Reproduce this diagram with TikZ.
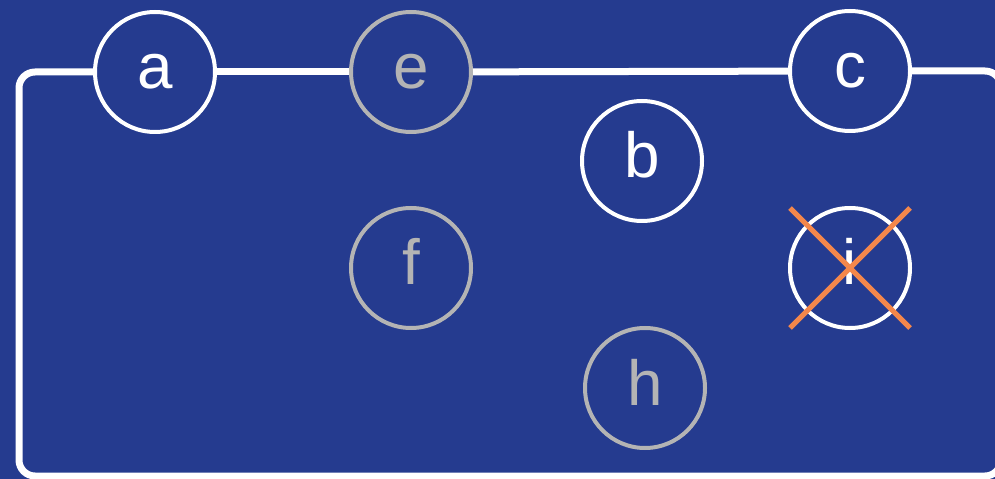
\documentclass[tikz,border=0pt]{standalone}
\usepackage{fontspec}
\setmainfont{Liberation Sans}
\definecolor{bgblue}{HTML}{253B8F}
\definecolor{dimgray}{HTML}{B4B4B4}
\definecolor{strikeorange}{HTML}{F4874B}
\tikzset{
  slot/.style={circle, draw=white, line width=4bp, fill=bgblue, text=white,
    minimum size=120bp, inner sep=0pt, text height=34bp, text depth=0pt,
    font=\fontsize{64}{70}\selectfont},
  ghost/.style={slot, draw=dimgray, text=dimgray},
  rail/.style={white, line width=7bp},
  strike/.style={strikeorange, line width=5bp},
}
\begin{document}
\begin{tikzpicture}[x=1bp, y=-1bp]
        % Background
            \fill[bgblue] (0,0) rectangle (995,479);
            \useasboundingbox (0,0) rectangle (995,479);

            % Slots on the rail
            \node[slot]  (a) at (155,72) {a};
            \node[ghost] (e) at (411,72) {e};
            \node[slot]  (c) at (850,71) {c};

            % Slots inside
            \node[slot]  (b) at (642,161) {b};
            \node[ghost] (f) at (411,268) {f};
            \node[slot]  (i) at (850,268) {i};
            \node[ghost] (h) at (645,388) {h};

            % Rail
            \draw[rail] (a) -- (e);
            \draw[rail] (e) -- (c);
            \draw[rail, rounded corners=16bp] (a.west) -- (19,72) -- (19,476)
                -- (1001,476) -- (1001,71) -- (c.east);

            % Crossed out
            \draw[strike] ([shift={(-60,-60)}]i.center) -- ([shift={(60,60)}]i.center);
            \draw[strike] ([shift={(-60,60)}]i.center) -- ([shift={(60,-60)}]i.center);

    \end{tikzpicture}
\end{document}
